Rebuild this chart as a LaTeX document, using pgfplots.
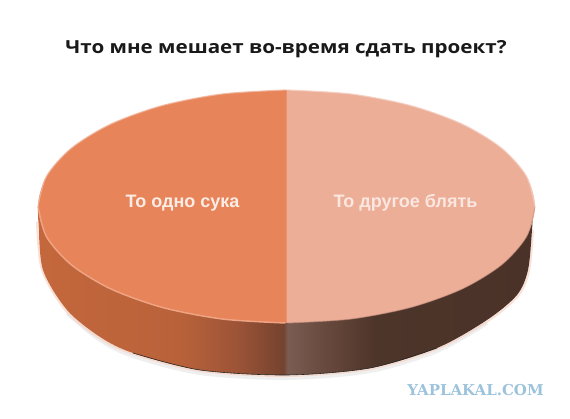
\documentclass[border=0pt]{standalone}
\usepackage{fontspec}
\setmainfont{Liberation Sans}
\newfontfamily\titlefont{Open Sans}
\newfontfamily\markfont{DejaVu Serif}
\usepackage{graphicx}
\usepackage{pgfplots}
\pgfplotsset{compat=1.18}
\definecolor{partA}{HTML}{E8845A}
\definecolor{partB}{HTML}{EDAE98}
\definecolor{sa}{HTML}{C4673C}
\definecolor{sb}{HTML}{B9623A}
\definecolor{sc}{HTML}{9E5437}
\definecolor{sd}{HTML}{74432F}
\definecolor{se}{HTML}{7A5C52}
\definecolor{sf}{HTML}{66473B}
\definecolor{sg}{HTML}{4E352A}
\definecolor{sh}{HTML}{4A3228}
\definecolor{markblue}{HTML}{9DC3DC}
% side of the disc, dark towards the seam and on the right
\pgfdeclarehorizontalshading{discside}{100bp}{
  color(0bp)=(sa); color(25bp)=(sa); color(39.3bp)=(sb); color(44.9bp)=(sc);
  color(49.8bp)=(sd); color(50.2bp)=(se); color(54.5bp)=(sf); color(59bp)=(sg);
  color(75bp)=(sh); color(100bp)=(sh)}
\begin{document}
\begin{tikzpicture}
\begin{axis}[
    width=570pt,height=419pt,scale only axis,hide axis,
    xmin=0,xmax=570,ymin=0,ymax=419,y dir=reverse,clip=false]
  \path[use as bounding box] (axis cs:0,0) rectangle (axis cs:570,419);
  % soft shadow round the base
  \addplot[smooth,draw=gray!25,line width=4pt,opacity=0.5] coordinates {
    (67,313) (100,340) (133,356) (200,373) (287,378) (370,371) (437,351) (487,323)};
  \addplot[smooth,draw=partA!35,line width=2pt,opacity=0.7] coordinates {
    (37,222) (42,270) (66,311) (99,338) (133,354) (200,371) (287,376) (370,369) (437,349) (488,321) (518,296) (529,271) (533,230)};
  % side
  \addplot[smooth,shading=discside,draw=none] coordinates {
    (38,210) (38.5,223) (43,270) (67,310) (100,337) (133,353) (200,370) (287,375)
    (370,368) (437,348) (487,320) (517,295) (528,270) (532,230) (533,210)};
  \addplot[smooth,draw=black!85,line width=0.6pt] coordinates {
    (133,353) (200,370) (287,375) (370,368) (437,348)};
  % top, two halves; the light one runs a little under the other so no seam shows
  \addplot[fill=partB,draw=none] coordinates {
    (284,90.5) (284,322.5) (286.5,323)};
  \addplot[smooth,fill=partB,draw=none] coordinates {
    (286.5,90) (350.8,94) (410.75,105.6) (462.2,124.1) (501.7,148.25) (526.5,176.3) (535,206.5)
    (526.5,236.7) (501.7,264.75) (462.2,288.9) (410.75,307.4) (350.8,319) (286.5,323)};
  \addplot[fill=partB,draw=none] coordinates {
    (284,90.5) (288,90.5) (288,322.5) (284,322.5)};
  \addplot[smooth,fill=partA,draw=none] coordinates {
    (286.5,90) (222.2,94) (162.25,105.6) (110.8,124.1) (71.3,148.25) (46.5,176.3) (38,206.5)
    (46.5,236.7) (71.3,264.75) (110.8,288.9) (162.25,307.4) (222.2,319) (286.5,323)};
  % bevel on the front edge
  \addplot[smooth,draw=partA!75!white,line width=1.5pt] coordinates {
    (38,206.5) (46.5,236.7) (71.3,264.75) (110.8,288.9) (162.25,307.4) (222.2,319) (285.5,323)};
  \addplot[smooth,draw=partB!85!black,line width=1pt,opacity=0.6] coordinates {
    (287.5,323) (350.8,319) (410.75,307.4) (462.2,288.9) (501.7,264.75) (526.5,236.7) (535,206.5)};
  % glow on the back edge
  \addplot[smooth,draw=partA!60!white,line width=1.2pt,opacity=0.8] coordinates {
    (286,90) (222.2,94) (162.25,105.6) (110.8,124.1) (71.3,148.25) (46.5,176.3) (38,206.5)};
  \addplot[smooth,draw=partB!60!white,line width=1.2pt,opacity=0.8] coordinates {
    (287,90) (350.8,94) (410.75,105.6) (462.2,124.1) (501.7,148.25) (526.5,176.3) (535,206.5)};
  \node[font=\titlefont\bfseries\fontsize{18}{20}\selectfont,text=black!90] at (axis cs:286,49) {\scalebox{1.145}[1]{Что мне мешает во-время сдать проект?}};
  \node[font=\bfseries\fontsize{18}{20}\selectfont,text=white!85!partA] at (axis cs:182.5,203) {То одно сука};
  \node[font=\bfseries\fontsize{18}{20}\selectfont,text=white!70!partB] at (axis cs:405.5,203) {То другое блять};
  \node[font=\markfont\bfseries\fontsize{15}{17}\selectfont,text=markblue] at (axis cs:475.5,390) {YAPLAKAL.COM};
\end{axis}
\end{tikzpicture}
\end{document}
